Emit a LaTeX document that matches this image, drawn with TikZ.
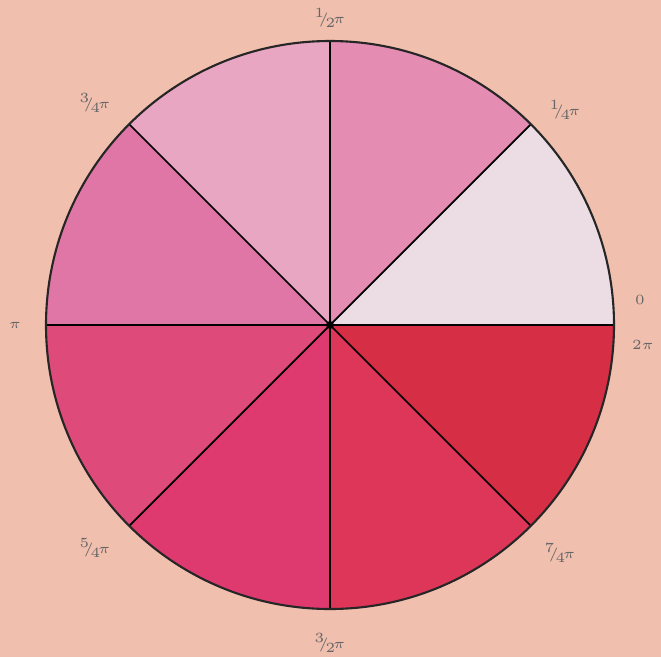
\documentclass[tikz,border=0pt]{standalone}
\usepackage{xcolor}
\usepackage{amsmath}
\usepackage{tikz}
\definecolor{paper}{HTML}{F0BFAE}
\definecolor{wedgeA}{HTML}{EBDDE3}
\definecolor{wedgeB}{HTML}{E48CB2}
\definecolor{wedgeC}{HTML}{E8A6C3}
\definecolor{wedgeD}{HTML}{E076A6}
\definecolor{wedgeE}{HTML}{DE4A7A}
\definecolor{wedgeF}{HTML}{DE3A70}
\definecolor{wedgeG}{HTML}{DE3658}
\definecolor{wedgeH}{HTML}{D62E44}
\tikzset{angle label/.style = {font=\tiny, text=black!60, inner sep=1pt, transform shape, scale=0.8}}
\newcommand{\fr}[2]{{}^{#1}\!\!/\!{}_{#2}\!}

\begin{document}
\begin{tikzpicture}[scale=1]

\fill[paper] (0,0) rectangle (6.61,6.57);
\useasboundingbox (0,0) rectangle (6.61,6.57);
\coordinate (o) at (3.30,3.32);

\fill[wedgeA] (o) -- ++(0:2.84) arc (0:45:2.84) -- cycle;
\fill[wedgeB] (o) -- ++(45:2.84) arc (45:90:2.84) -- cycle;
\fill[wedgeC] (o) -- ++(90:2.84) arc (90:135:2.84) -- cycle;
\fill[wedgeD] (o) -- ++(135:2.84) arc (135:180:2.84) -- cycle;
\fill[wedgeE] (o) -- ++(180:2.84) arc (180:225:2.84) -- cycle;
\fill[wedgeF] (o) -- ++(225:2.84) arc (225:270:2.84) -- cycle;
\fill[wedgeG] (o) -- ++(270:2.84) arc (270:315:2.84) -- cycle;
\fill[wedgeH] (o) -- ++(315:2.84) arc (315:360:2.84) -- cycle;

\draw[line width=0.5pt] (o) -- ++(0:2.84);
\draw[line width=0.5pt] (o) -- ++(45:2.84);
\draw[line width=0.5pt] (o) -- ++(90:2.84);
\draw[line width=0.5pt] (o) -- ++(135:2.84);
\draw[line width=0.5pt] (o) -- ++(180:2.84);
\draw[line width=0.5pt] (o) -- ++(225:2.84);
\draw[line width=0.5pt] (o) -- ++(270:2.84);
\draw[line width=0.5pt] (o) -- ++(315:2.84);

\draw[line width=0.6pt, black!85] (o) circle (2.84);
\fill (o) circle (0.04);

\node[angle label] (zero) at (6.40,3.57) {$0$};
\node[angle label] (quarter) at (5.65,5.47) {$\fr{1}{4}\pi$};
\node[angle label] (half) at (3.30,6.39) {$\fr{1}{2}\pi$};
\node[angle label] (threequarter) at (0.95,5.54) {$\fr{3}{4}\pi$};
\node[angle label] (pi) at (0.15,3.32) {$\pi$};
\node[angle label] (fivequarter) at (0.95,1.09) {$\fr{5}{4}\pi$};
\node[angle label] (threehalf) at (3.30,0.14) {$\fr{3}{2}\pi$};
\node[angle label] (sevenquarter) at (5.60,1.04) {$\fr{7}{4}\pi$};
\node[angle label] (twopi) at (6.43,3.12) {$2\pi$};
\end{tikzpicture}
\end{document}
